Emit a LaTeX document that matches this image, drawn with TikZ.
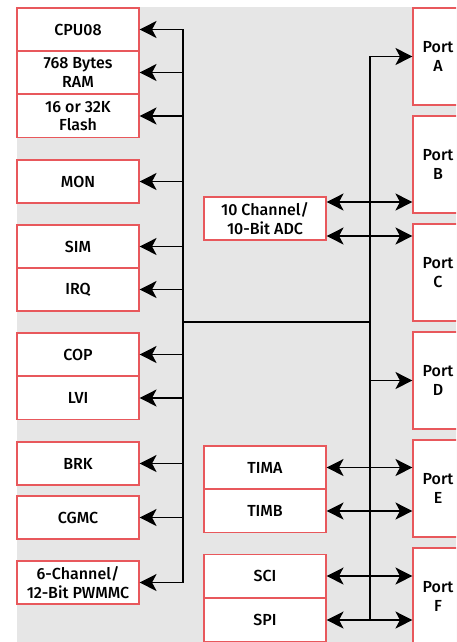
\documentclass[tikz,border=0pt]{standalone}
\usepackage{fontspec}
\setmainfont{Fira Sans}[UprightFont=* Medium]
\usetikzlibrary{arrows.meta}
\definecolor{boxred}{RGB}{232,88,92}
\definecolor{bggray}{RGB}{230,230,230}
\begin{document}
\begin{tikzpicture}[x=1pt,y=-1pt,
  box/.style={draw=boxred, line width=1.1pt, fill=white, inner sep=0pt,
    minimum width=122pt, minimum height=43pt, align=center,
    font=\fontsize{16}{18.5}\selectfont},
  port/.style={box, minimum width=50pt, minimum height=97pt},
  bus/.style={line width=1.3pt, draw=black},
  arr/.style={bus, -{Stealth[length=17pt,width=17pt,inset=4.5pt]}},
  darr/.style={bus, {Stealth[length=17pt,width=17pt,inset=4.5pt]}-{Stealth[length=17pt,width=17pt,inset=4.5pt]}}]
\useasboundingbox (0,0) rectangle (456,642);
\clip (0,0) rectangle (456,642);
\fill[bggray] (17,7) rectangle (470,660);
% left column
\node[box] (cpu)  at (78,29.5)  {CPU08};
\node[box] (ram)  at (78,72.5)  {768 Bytes\\RAM};
\node[box] (fl)   at (78,116)   {16 or 32K\\Flash};
\node[box] (mon)  at (78,181.5) {MON};
\node[box] (sim)  at (78,246.5) {SIM};
\node[box] (irq)  at (78,289.5) {IRQ};
\node[box] (cop)  at (78,354.5) {COP};
\node[box] (lvi)  at (78,398)   {LVI};
\node[box] (brk)  at (78,463.5) {BRK};
\node[box] (cgmc) at (78,517.5) {CGMC};
\node[box] (pwm)  at (78,582.5) {6-Channel/\\12-Bit PWMMC};
% middle column
\node[box] (adc)  at (265,218.5) {10 Channel/\\10-Bit ADC};
\node[box] (tima) at (265,467.5) {TIMA};
\node[box] (timb) at (265,511)   {TIMB};
\node[box] (sci)  at (265,576)   {SCI};
\node[box] (spi)  at (265,620)   {SPI};
% ports
\node[port] (pa) at (438,56.5)  {Port\\A};
\node[port] (pb) at (438,164.5) {Port\\B};
\node[port] (pc) at (438,272.5) {Port\\C};
\node[port] (pd) at (438,380.5) {Port\\D};
\node[port] (pe) at (438,488.5) {Port\\E};
\node[port] (pf) at (438,596.5) {Port\\F};
% buses
\coordinate (lt) at (183,29.5);
\coordinate (lb) at (183,582.5);
\coordinate (lm) at (183,322);
\coordinate (rt) at (370,56.5);
\coordinate (rb) at (370,620);
\coordinate (rm) at (370,322);
\draw[bus] (lt) -- (lb);
\draw[bus] (rt) -- (rb);
\draw[bus] (lm) -- (rm);
\foreach \n in {cpu,ram,fl,mon,sim,irq,cop,lvi,brk,cgmc,pwm}
  \draw[arr] (\n.east -| lt) -- (\n.east);
\draw[arr] (rt) -- (pa.west);
\draw[arr] (pd.west -| rt) -- (pd.west);
\draw[darr] ([yshift=16.5pt]adc.east) -- ([yshift=16.5pt]adc.east -| pb.west);
\draw[darr] ([yshift=-17.5pt]adc.east) -- ([yshift=-17.5pt]adc.east -| pc.west);
\draw[darr] (tima.east) -- (tima.east -| pe.west);
\draw[darr] (timb.east) -- (timb.east -| pe.west);
\draw[darr] (sci.east) -- (sci.east -| pf.west);
\draw[darr] (spi.east) -- (spi.east -| pf.west);
\end{tikzpicture}
\end{document}
